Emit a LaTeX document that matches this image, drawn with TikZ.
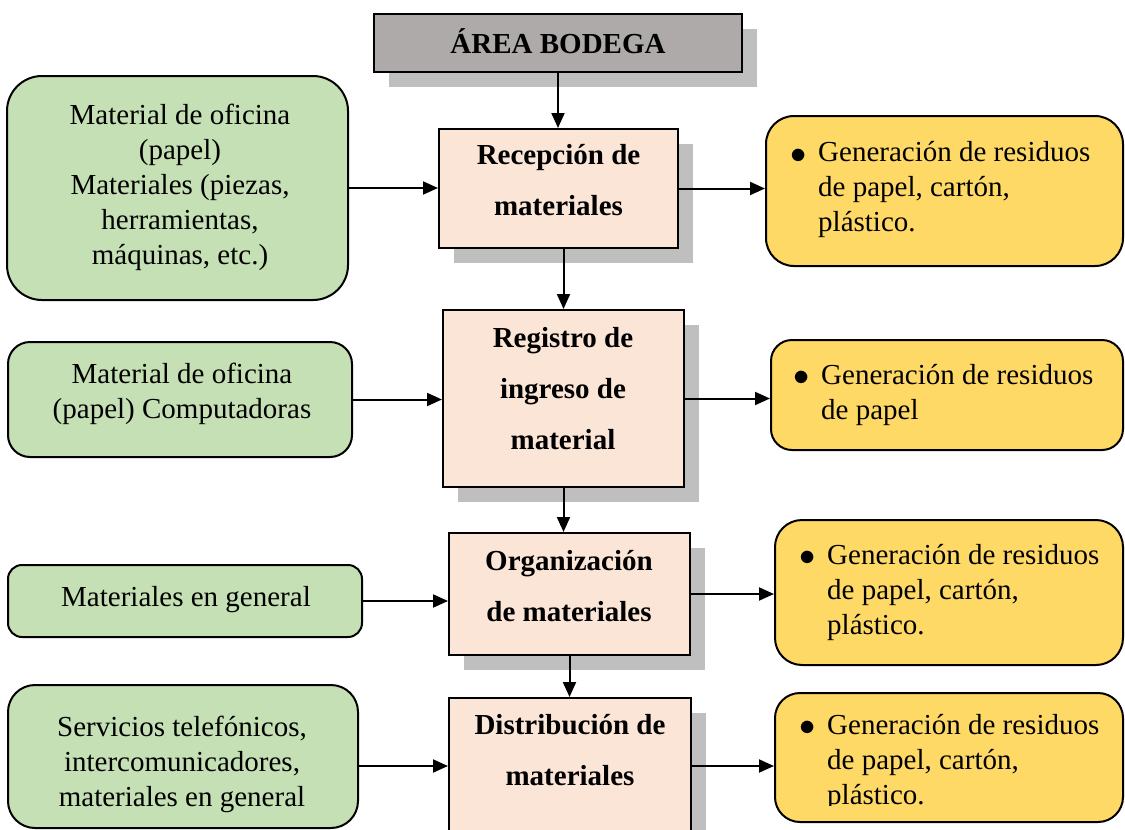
\documentclass[tikz,border=0pt]{standalone}
\usepackage{fontspec}
\setmainfont{Liberation Serif}
\usetikzlibrary{arrows.meta,shadows,calc}
\definecolor{gfill}{HTML}{C5E0B4}
\definecolor{yfill}{HTML}{FFD966}
\definecolor{pfill}{HTML}{FBE5D6}
\definecolor{afill}{HTML}{AEAAAA}
\definecolor{shd}{HTML}{BFBFBF}
\tikzset{
  shadowed/.style={drop shadow={shadow xshift=15pt, shadow yshift=-15pt, fill=shd, opacity=1}},
  procbox/.style={draw=black, line width=2pt, fill=pfill, inner sep=0pt, shadowed},
  areabox/.style={draw=black, line width=2pt, fill=afill, inner sep=0pt, shadowed},
  greenbox/.style={draw=black, line width=2pt, fill=gfill, inner sep=0pt},
  yelbox/.style={draw=black, line width=2pt, fill=yfill, inner sep=0pt},
  arr/.style={line width=2pt, -{Triangle[length=15pt,width=13pt]}},
  txt/.style={font=\fontsize{29}{35}\selectfont, align=center, inner sep=0pt},
  btxt/.style={font=\fontsize{29}{51}\selectfont\bfseries, align=center, inner sep=0pt},
  ytxt/.style={font=\fontsize{29}{35}\selectfont, align=left, inner sep=0pt, anchor=west},
}
\newcommand{\bul}{\makebox[22pt][l]{\hspace*{-6pt}\raisebox{-1.5pt}{\scalebox{1.3}{$\bullet$}}}}
\newcommand{\ind}{\hspace*{22pt}}
\begin{document}
\begin{tikzpicture}[x=1pt,y=-1pt]
\useasboundingbox (0,0) rectangle (1125,830);
\clip (0,0) rectangle (1125,830);

% central process boxes
\node[areabox, minimum width=368pt, minimum height=58pt, text height=20pt, text depth=0pt,
      font=\fontsize{29}{35}\selectfont\bfseries] (area) at (558,43) {ÁREA BODEGA};
\node[procbox, minimum width=239pt, minimum height=119pt] (rec) at (558.5,188.5) {};
\node[btxt] (rect) at (558.5,180.5) {Recepción de\\materiales};
\node[procbox, minimum width=241pt, minimum height=177pt] (reg) at (563.5,398.5) {};
\node[btxt] (regt) at (563,389) {Registro de\\ingreso de\\material};
\node[procbox, minimum width=241pt, minimum height=122pt] (org) at (569.5,594) {};
\node[btxt] (orgt) at (569,586) {Organización\\de materiales};
\node[procbox, minimum width=242pt, minimum height=136pt] (dis) at (570,766) {};
\node[btxt] (dist) at (570,750) {Distribución de\\materiales};

% left inputs
\node[greenbox, rounded corners=35pt, minimum width=341pt, minimum height=224pt] (g1) at (177.5,188) {};
\node[txt] (g1t) at (180,187) {Material de oficina\\(papel)\\Materiales (piezas,\\herramientas,\\máquinas, etc.)};
\node[greenbox, rounded corners=22pt, minimum width=344pt, minimum height=115pt] (g2) at (180,399.5) {};
\node[txt] (g2t) at (182,394) {Material de oficina\\(papel) Computadoras};
\node[greenbox, rounded corners=14pt, minimum width=354pt, minimum height=72pt] (g3) at (185,601) {};
\node[txt] (g3t) at (186,600) {Materiales en general};
\node[greenbox, rounded corners=27pt, minimum width=350pt, minimum height=143pt] (g4) at (183,756.5) {};
\node[txt] (g4t) at (182,764) {Servicios telefónicos,\\intercomunicadores,\\materiales en general};

% right outputs
\node[yelbox, rounded corners=28pt, minimum width=357pt, minimum height=150pt] (y1) at (944.5,191) {};
\node[ytxt] (y1t) at (796,190) {\bul Generación de residuos\\\ind de papel, cartón,\\\ind plástico.};
\node[yelbox, rounded corners=21pt, minimum width=352pt, minimum height=110pt] (y2) at (947,395) {};
\node[ytxt] (y2t) at (799,394.5) {\bul Generación de residuos\\\ind de papel};
\node[yelbox, rounded corners=27pt, minimum width=348pt, minimum height=145pt] (y3) at (949,592.5) {};
\node[ytxt] (y3t) at (805,592) {\bul Generación de residuos\\\ind de papel, cartón,\\\ind plástico.};
\node[yelbox, rounded corners=25pt, minimum width=348pt, minimum height=129pt] (y4) at (949,757.5) {};
\begin{scope}
\clip (775,693) rectangle (1123,805);
\node[ytxt] (y4t) at (805,762) {\bul Generación de residuos\\\ind de papel, cartón,\\\ind plástico.};
\end{scope}

% vertical flow
\draw[arr] (area.south) -- (area.south |- rec.north);
\draw[arr] (reg.north |- rec.south) -- (reg.north);
\draw[arr] (reg.south) -- (reg.south |- org.north);
\draw[arr] (org.south) -- (org.south |- dis.north);

% inputs
\draw[arr] (g1.east) -- (g1.east -| rec.west);
\draw[arr] (g2.east) -- (g2.east -| reg.west);
\draw[arr] (g3.east) -- (g3.east -| org.west);
\draw[arr] (dis.west -| g4.east) -- (dis.west);

% outputs
\draw[arr] (rec.east) -- (rec.east -| y1.west);
\draw[arr] (reg.east) -- (reg.east -| y2.west);
\draw[arr] (org.east) -- (org.east -| y3.west);
\draw[arr] (dis.east) -- (dis.east -| y4.west);
\end{tikzpicture}
\end{document}
